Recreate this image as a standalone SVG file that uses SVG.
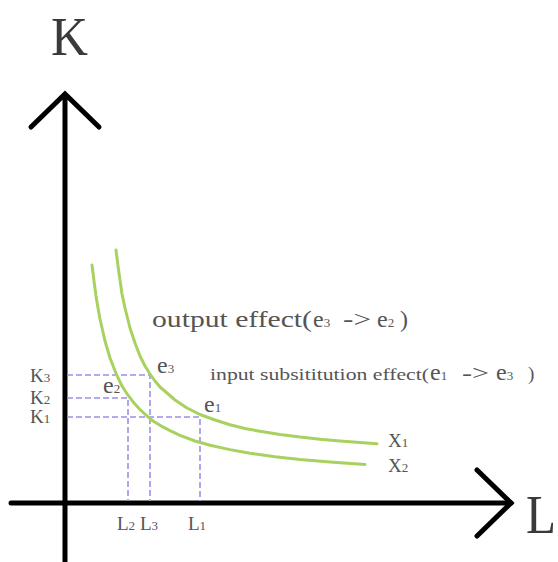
<svg xmlns="http://www.w3.org/2000/svg" width="558" height="562" viewBox="0 0 558 562">
<style>
.ax{stroke:#000;stroke-width:5;fill:none;stroke-linecap:round;stroke-linejoin:miter}
.cv{stroke:#a9d15f;stroke-width:3;fill:none;stroke-linecap:round;stroke-linejoin:round}
.dl{stroke:#9c90e6;stroke-width:1.6;fill:none;stroke-dasharray:6 3}
text{font-family:"Liberation Serif","DejaVu Serif",serif;fill:#555}
.big{fill:#3a3a3a;font-size:54px}
.lab{font-size:19px}
.sub{font-size:13px}
</style>
<rect width="558" height="562" fill="#fff"/>
<g id="axes">
<line class="ax" x1="65" y1="94" x2="65" y2="564" style="stroke-linecap:butt"/>
<polyline class="ax" points="31,127 65,94 99,127"/>
<line class="ax" x1="11" y1="503" x2="511" y2="503"/>
<polyline class="ax" points="477,470 511,503 477,536"/>
</g>
<g id="axis-labels">
<text class="big" x="51" y="55" textLength="37" lengthAdjust="spacingAndGlyphs">K</text>
<text class="big" x="526" y="533" textLength="30" lengthAdjust="spacingAndGlyphs">L</text>
</g>
<g id="connectors">
<polyline class="dl" points="67,375 150,375 150,501"/>
<polyline class="dl" points="67,398 128,398 128,501"/>
<polyline class="dl" points="67,417 200,417 200,501"/>
</g>
<g id="x1">
<polyline class="cv" points="116,250 118,266 120,280 122,294 125,308 130,328 135,343 140,356 145,366 150,374 155,381 160,387 167,393 175,400 187,408 200,414.5 215,420 230,424.7 245,428.5 260,431.3 280,434.5 300,437.1 320,439.2 340,441 360,442.5 377,443.7"/>
<text class="lab" x="388" y="447">X<tspan class="sub">1</tspan></text>
</g>
<g id="x2">
<polyline class="cv" points="92,265 94,281 96,296 98,308 100,319 105,341 110,358 117,375.7 122,386 128,395.2 134,403 140,409.6 147,416 153,421 160,425.3 170,430.6 180,435.4 195,441 210,445.2 230,449.6 250,453.3 275,456.7 300,459.5 330,462 365,464.4"/>
<text class="lab" x="388" y="472">X<tspan class="sub">2</tspan></text>
</g>
<g id="k-labels">
<text class="lab" x="30" y="382">K<tspan class="sub">3</tspan></text>
<text class="lab" x="30" y="404">K<tspan class="sub">2</tspan></text>
<text class="lab" x="30" y="423">K<tspan class="sub">1</tspan></text>
</g>
<g id="l-labels">
<text class="lab" x="117" y="530">L<tspan class="sub">2</tspan></text>
<text class="lab" x="140" y="530">L<tspan class="sub">3</tspan></text>
<text class="lab" x="188" y="530">L<tspan class="sub">1</tspan></text>
</g>
<g id="e3">
<text x="157" y="373" font-size="24">e<tspan class="sub">3</tspan></text>
</g>
<g id="e2">
<text x="103" y="393" font-size="24">e<tspan class="sub">2</tspan></text>
</g>
<g id="e1">
<text x="204" y="412" font-size="24">e<tspan class="sub">1</tspan></text>
</g>
<g id="output-effect">
<text y="327" font-size="24"><tspan x="152" textLength="160" lengthAdjust="spacingAndGlyphs">output effect(</tspan><tspan x="313">e</tspan><tspan class="sub">3</tspan><tspan x="343" textLength="28" lengthAdjust="spacingAndGlyphs">-&gt;</tspan><tspan x="377">e</tspan><tspan class="sub">2</tspan><tspan x="400">)</tspan></text>
</g>
<g id="input-effect">
<text y="380" font-size="17"><tspan x="210" textLength="219" lengthAdjust="spacingAndGlyphs">input subsititution effect(</tspan><tspan x="430" font-size="24">e</tspan><tspan class="sub">1</tspan><tspan x="462" font-size="20" textLength="27" lengthAdjust="spacingAndGlyphs">-&gt;</tspan><tspan x="496" font-size="24">e</tspan><tspan class="sub">3</tspan><tspan x="528" font-size="19">)</tspan></text>
</g>
</svg>
